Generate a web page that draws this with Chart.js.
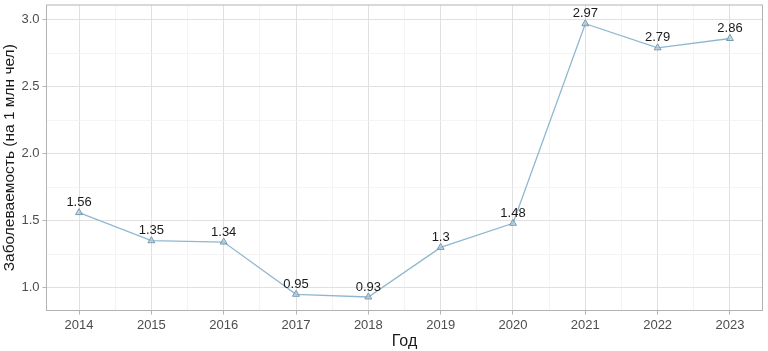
<!DOCTYPE html>
<html lang="ru">
<head>
    <meta charset="UTF-8">
    <title>Заболеваемость</title>
    <script src="https://cdn.jsdelivr.net/npm/chart.js"></script>
    <style>
        html, body { margin: 0; padding: 0; background: #fff; }
        #wrap { width: 768px; height: 351px; }
    </style>
</head>
<body>
    <div id="wrap"><canvas id="chart" width="768" height="351"></canvas></div>

    <script>
        // data
        const years = [2014, 2015, 2016, 2017, 2018, 2019, 2020, 2021, 2022, 2023];
        const rates = [1.56, 1.35, 1.34, 0.95, 0.93, 1.3, 1.48, 2.97, 2.79, 2.86];
        const yTicks = [1.0, 1.5, 2.0, 2.5, 3.0];

        const FONT = '"Liberation Sans", Arial, sans-serif';
        const isMajorX = v => Math.abs(v - Math.round(v)) < 1e-6;
        const isMajorY = v => yTicks.some(t => Math.abs(t - v) < 1e-6);

        // frame round the panel
        const panelBorder = {
            id: 'panelBorder',
            afterDraw(chart) {
                const a = chart.chartArea, ctx = chart.ctx;
                ctx.save();
                ctx.strokeStyle = '#b3b3b3';
                ctx.lineWidth = 1;
                ctx.strokeRect(a.left, a.top, a.right - a.left, a.bottom - a.top);
                ctx.restore();
            }
        };

        // value labels above the points
        const valueLabels = {
            id: 'valueLabels',
            afterDatasetsDraw(chart) {
                const ctx = chart.ctx;
                const meta = chart.getDatasetMeta(0);
                ctx.save();
                ctx.font = '13px ' + FONT;
                ctx.fillStyle = '#1a1a1a';
                ctx.textAlign = 'center';
                ctx.textBaseline = 'middle';
                meta.data.forEach((pt, i) => {
                    ctx.fillText(String(rates[i]), pt.x, pt.y - 10);
                });
                ctx.restore();
            }
        };

        new Chart(document.getElementById('chart'), {
            type: 'line',
            data: {
                datasets: [{
                    data: years.map((y, i) => ({ x: y, y: rates[i] })),
                    borderColor: '#8fb8cf',
                    borderWidth: 1.3,
                    pointStyle: 'triangle',
                    pointRadius: 4,
                    pointBorderWidth: 1,
                    pointBorderColor: '#7799ae',
                    pointBackgroundColor: 'rgba(170,198,214,0.6)',
                    tension: 0
                }]
            },
            options: {
                responsive: false,
                animation: false,
                layout: { padding: { top: 3.5, right: 5.5, bottom: 0, left: 0 } },
                plugins: { legend: { display: false }, tooltip: { enabled: false } },
                scales: {
                    x: {
                        type: 'linear',
                        min: 2013.55,
                        max: 2023.45,
                        afterBuildTicks(scale) {
                            const t = [];
                            for (let v = 2013.5; v <= 2023.5; v += 0.5) {
                                if (v >= scale.min && v <= scale.max) t.push({ value: v });
                            }
                            scale.ticks = t;
                        },
                        afterFit(scale) {
                            scale.height = 40.5;
                            scale.paddingLeft = 0;
                            scale.paddingRight = 0;
                        },
                        border: { display: false },
                        grid: {
                            color: c => isMajorX(c.tick.value) ? '#e0e0e0' : '#f1f1f1',
                            lineWidth: c => isMajorX(c.tick.value) ? 1 : 0.8,
                            tickColor: c => isMajorX(c.tick.value) ? '#b3b3b3' : 'rgba(0,0,0,0)',
                            tickLength: 4
                        },
                        ticks: {
                            autoSkip: false,
                            maxRotation: 0,
                            padding: 3,
                            color: '#4d4d4d',
                            font: { family: FONT, size: 13 },
                            callback: v => isMajorX(v) ? String(Math.round(v)) : ''
                        },
                        title: {
                            display: true,
                            text: 'Год',
                            color: '#1a1a1a',
                            font: { family: FONT, size: 16 },
                            padding: { top: 2, bottom: 0 }
                        }
                    },
                    y: {
                        min: 0.829,
                        max: 3.11,
                        afterBuildTicks(scale) {
                            const t = [];
                            for (let v = 1.0; v <= 3.0001; v += 0.25) t.push({ value: Math.round(v * 100) / 100 });
                            scale.ticks = t;
                        },
                        afterFit(scale) {
                            scale.width = 46.5;
                            scale.paddingTop = 0;
                            scale.paddingBottom = 0;
                        },
                        border: { display: false },
                        grid: {
                            color: c => isMajorY(c.tick.value) ? '#e0e0e0' : '#f1f1f1',
                            lineWidth: c => isMajorY(c.tick.value) ? 1 : 0.8,
                            tickColor: c => isMajorY(c.tick.value) ? '#b3b3b3' : 'rgba(0,0,0,0)',
                            tickLength: 4
                        },
                        ticks: {
                            autoSkip: false,
                            padding: 3,
                            color: '#4d4d4d',
                            font: { family: FONT, size: 13 },
                            callback: v => isMajorY(v) ? v.toFixed(1) : ''
                        },
                        title: {
                            display: true,
                            text: 'Заболеваемость (на 1 млн чел)',
                            color: '#1a1a1a',
                            font: { family: FONT, size: 15.5 },
                            padding: { top: 0, bottom: 2 }
                        }
                    }
                }
            },
            plugins: [panelBorder, valueLabels]
        });
    </script>
</body>
</html>
